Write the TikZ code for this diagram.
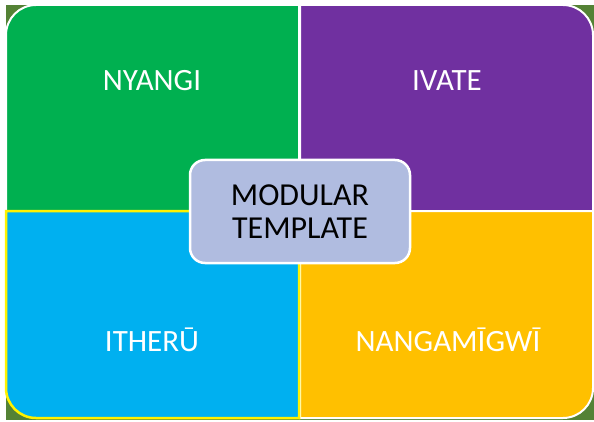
\documentclass[tikz,border=0pt]{standalone}
\usepackage{fontspec}
\setmainfont{Carlito}
\definecolor{qgreen}{HTML}{00B050}
\definecolor{qpurple}{HTML}{7030A0}
\definecolor{qblue}{HTML}{00B0F0}
\definecolor{qorange}{HTML}{FFC000}
\definecolor{darkbg}{HTML}{548235}
\definecolor{centerfill}{HTML}{B0BCE0}
\begin{document}
\begin{tikzpicture}[x=1pt,y=1pt,
  quad/.style={draw=white,line width=2pt},
  qlabel/.style={text=white,font=\fontsize{31}{34}\selectfont,anchor=center,inner sep=0pt},
  centerbox/.style={draw=white,line width=2.5pt,fill=centerfill,rounded corners=15pt,
    minimum width=220pt,minimum height=103pt,align=center,
    font=\fontsize{32}{33}\selectfont,text=black,inner sep=0pt}]
\useasboundingbox (0,0) rectangle (594,421);
\fill[white] (0,0) rectangle (594,421);
\fill[darkbg] (6,1) rectangle (594,416);
\def\r{30}
% top-left green
\path[quad,fill=qgreen] (299,210) -- (6,210) -- (6,416-\r) arc[start angle=180,end angle=90,radius=\r] -- (299,416) -- cycle;
% top-right purple
\path[quad,fill=qpurple] (300,210) -- (300,416) -- (593-\r,416) arc[start angle=90,end angle=0,radius=\r] -- (593,210) -- cycle;
% bottom-right orange
\path[quad,fill=qorange] (300,210) -- (593,210) -- (593,3+\r) arc[start angle=0,end angle=-90,radius=\r] -- (300,3) -- cycle;
% bottom-left blue
\path[quad,draw=yellow,line width=2.5pt,fill=qblue] (299,210) -- (6,210) -- (6,3+\r) arc[start angle=180,end angle=270,radius=\r] -- (299,3) -- cycle;
\node[qlabel] (nyangi) at (152,340) {NYANGI};
\node[qlabel] (ivate) at (447,340) {IVATE};
\node[qlabel] (itheru) at (152,81) {ITHERŪ};
\node[qlabel] (nanga) at (448,81) {NANGAMĪGWĪ};
\node[centerbox] (center) at (300,209.5) {MODULAR\\TEMPLATE};
\end{tikzpicture}
\end{document}
